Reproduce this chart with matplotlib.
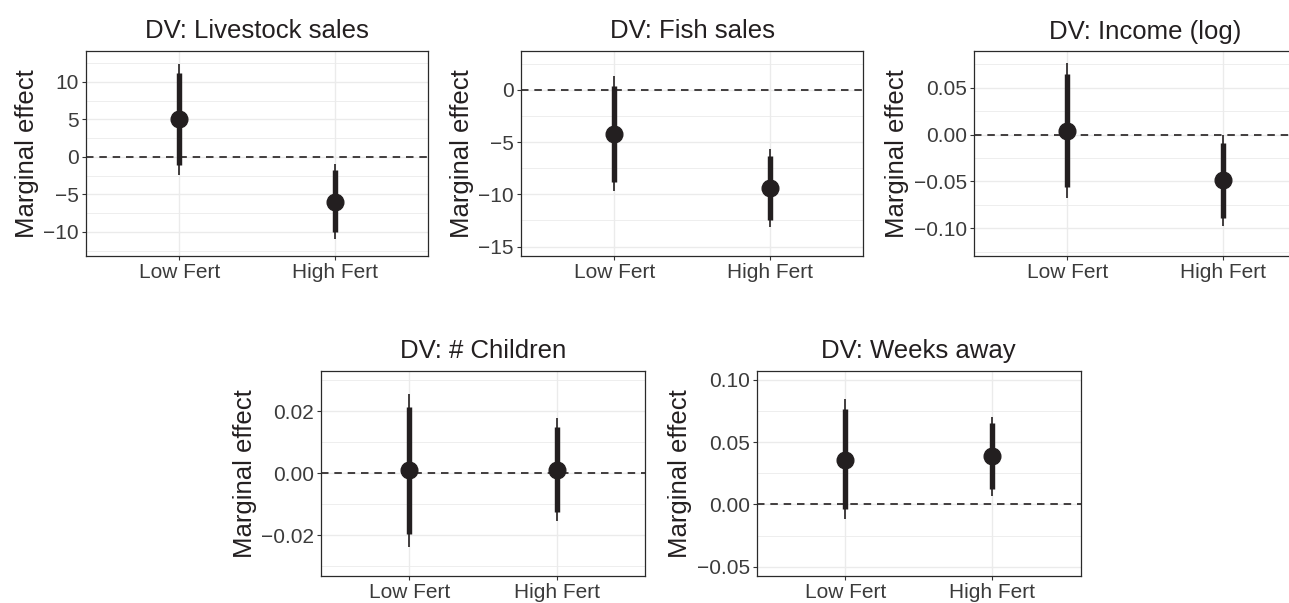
import numpy as np
import matplotlib
matplotlib.use('Agg')
import matplotlib.pyplot as plt
from matplotlib.ticker import FixedLocator, FuncFormatter

# data
titles = ['DV: Livestock sales', 'DV: Fish sales', 'DV: Income (log)',
          'DV: # Children', 'DV: Weeks away']
categories = ['Low Fert', 'High Fert']
estimates = [[5.0, -5.95], [-4.2, -9.4], [0.004, -0.049], [0.001, 0.001], [0.036, 0.039]]
inner_lo = [[-1.1, -10.05], [-8.8, -12.45], [-0.056, -0.089], [-0.0197, -0.0127], [-0.004, 0.012]]
inner_hi = [[11.15, -1.8], [0.4, -6.3], [0.064, -0.009], [0.0214, 0.0150], [0.077, 0.0655]]
outer_lo = [[-2.35, -10.9], [-9.7, -13.1], [-0.0675, -0.097], [-0.0238, -0.0154], [-0.012, 0.007]]
outer_hi = [[12.4, -1.0], [1.3, -5.65], [0.076, -0.0005], [0.0255, 0.0178], [0.0845, 0.0703]]
y_ticks = [[-10, -5, 0, 5, 10], [-15, -10, -5, 0], [-0.10, -0.05, 0.0, 0.05],
           [-0.02, 0.0, 0.02], [-0.05, 0.0, 0.05, 0.10]]
y_decimals = [0, 0, 2, 2, 2]
y_limits = [(-13.2, 14.1), (-15.9, 3.73), (-0.1295, 0.089), (-0.0332, 0.0329), (-0.0575, 0.1072)]

plt.rc('font', family=['Liberation Sans', 'DejaVu Sans'])

W, H = 1289, 603
# axes boxes in pixels: left, top, right, bottom
boxes = [(86, 51, 428, 256), (521, 51, 863, 256), (974, 51, 1316, 256),
         (321, 371, 645.5, 576), (757, 371, 1080.5, 576)]

ink = '#231F20'
grid = '#EBEBEB'

fig = plt.figure(figsize=(W / 100, H / 100), dpi=100)

for i, (l, t, r, b) in enumerate(boxes):
    ax = fig.add_axes([l / W, 1 - b / H, (r - l) / W, (b - t) / H])
    x = np.arange(len(categories))

    ax.axhline(0, color=ink, lw=1.2, dashes=(4.5, 3.5), zorder=2)
    ax.vlines(x, outer_lo[i], outer_hi[i], color=ink, lw=1.2, zorder=3)
    ax.vlines(x, inner_lo[i], inner_hi[i], color=ink, lw=3.9, zorder=4)
    ax.plot(x, estimates[i], 'o', color=ink, ms=12, zorder=5)

    ax.set_xlim(-0.6, 1.6)
    ax.set_ylim(*y_limits[i])
    ax.set_xticks(x)
    ax.set_xticklabels(categories)

    ticks = y_ticks[i]
    step = ticks[1] - ticks[0]
    lo, hi = y_limits[i]
    minors = np.arange(ticks[0] - step / 2, hi, step)
    minors = [m for m in minors if lo < m < hi]
    ax.yaxis.set_major_locator(FixedLocator(ticks))
    ax.yaxis.set_minor_locator(FixedLocator(minors))
    d = y_decimals[i]
    ax.yaxis.set_major_formatter(FuncFormatter(
        lambda v, p, d=d: f'{v:.{d}f}'.replace('-', '\u2212') if abs(v) > 1e-12 else f'{0:.{d}f}'))

    ax.grid(True, which='major', color=grid, lw=1.0, zorder=0)
    ax.grid(True, which='minor', axis='y', color=grid, lw=0.6, zorder=0)
    ax.set_axisbelow(True)

    ax.tick_params(axis='both', which='major', length=2.7, width=0.8, color='#333333',
                   labelsize=15, labelcolor='#3B3B3B', pad=2.5)
    ax.tick_params(axis='y', which='minor', length=0)
    for s in ax.spines.values():
        s.set_color('#2A2A2A')
        s.set_linewidth(0.9)

    ax.set_title(titles[i], fontsize=18.5, color=ink, pad=9)
    ax.set_ylabel('Marginal effect', fontsize=18.5, color=ink, labelpad=3)

fig.savefig('out.png', dpi=100)
